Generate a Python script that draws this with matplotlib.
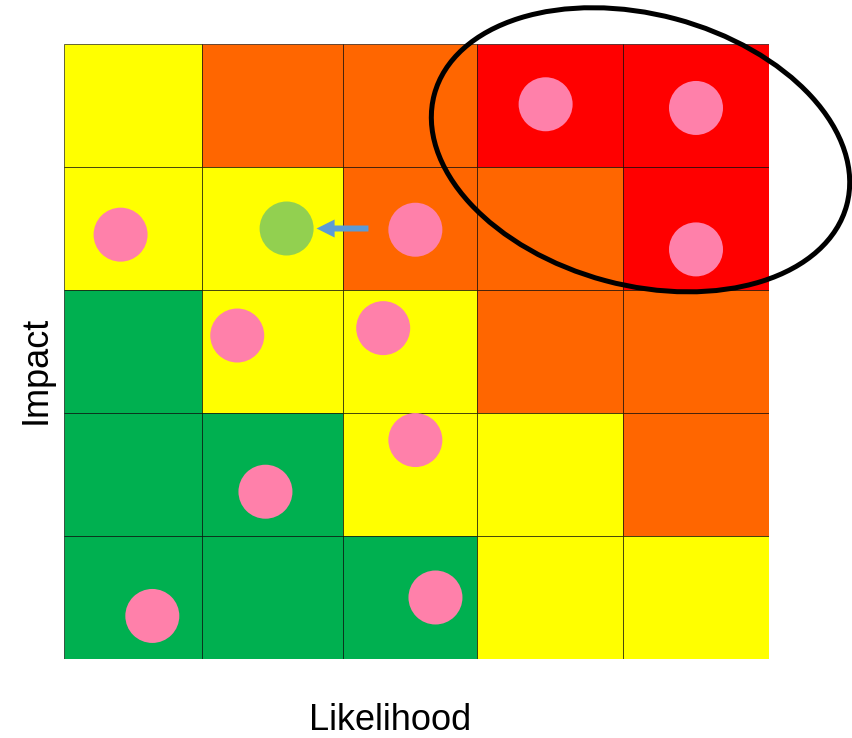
import matplotlib.pyplot as plt
import numpy as np
from matplotlib.patches import Rectangle, Circle, Ellipse, FancyArrow

# risk level of each cell, rows from top (high impact) to bottom
levels = [
    ["med", "high", "high", "extreme", "extreme"],
    ["med", "med", "high", "high", "extreme"],
    ["low", "med", "med", "high", "high"],
    ["low", "low", "med", "med", "high"],
    ["low", "low", "low", "med", "med"],
]
level_colors = {"low": "#00B050", "med": "#FFFF00", "high": "#FF6600", "extreme": "#FF0000"}

# risks in grid units (likelihood, impact), 0..5
risk_x = [3.47, 4.50, 4.50, 0.41, 2.54, 1.25, 2.30, 2.54, 1.45, 0.64, 2.69]
risk_y = [4.51, 4.48, 3.33, 3.45, 3.49, 2.63, 2.69, 1.78, 1.36, 0.35, 0.50]
moved_x, moved_y = 1.60, 3.50      # risk after mitigation
arrow_from = 2.19

# layout: pixel edges of the columns / rows
col_edges = [0, 138, 279, 413, 559, 705]
row_edges = [0, 123, 246, 369, 492, 615]

def gx(v):
    return np.interp(v, range(6), col_edges)

def gy(v):
    return np.interp(v, range(6), row_edges)

fig = plt.figure(figsize=(8.53, 7.38), dpi=100)
ax = fig.add_axes([64 / 853, 79 / 738, 705 / 853, 615 / 738])
ax.set_xlim(0, 705)
ax.set_ylim(0, 615)
ax.set_aspect("equal")
ax.axis("off")

n = len(levels)
for r, row in enumerate(levels):
    for c, lev in enumerate(row):
        y0 = row_edges[n - 1 - r]
        ax.add_patch(Rectangle((col_edges[c], y0), col_edges[c + 1] - col_edges[c],
                               row_edges[n - r] - y0, facecolor=level_colors[lev],
                               edgecolor=(0, 0, 0, 0.7), linewidth=0.6))

for x, y in zip(risk_x, risk_y):
    ax.add_patch(Circle((gx(x), gy(y)), 27, facecolor="#FF80AA", edgecolor="none", zorder=3))
ax.add_patch(Circle((gx(moved_x), gy(moved_y)), 27, facecolor="#92D050", edgecolor="none", zorder=3))

ax.add_patch(FancyArrow(gx(arrow_from), gy(moved_y), gx(moved_x) + 27 - gx(arrow_from) + 3, 0,
                        width=6, head_width=18, head_length=18, length_includes_head=True,
                        facecolor="#5B9BD5", edgecolor="none", zorder=3))

ax.add_patch(Ellipse((gx(4.12), gy(4.14)), 427, 271, angle=-15, fill=False,
                     edgecolor="black", linewidth=3.6, clip_on=False, zorder=4))

fig.text(390 / 853, 17 / 738, "Likelihood", ha="center", va="center",
         fontsize=26, family="Liberation Sans")
fig.text(36 / 853, 368 / 738, "Impact", ha="center", va="center", rotation=90,
         fontsize=26, family="Liberation Sans")

fig.savefig("out.png", dpi=100)
